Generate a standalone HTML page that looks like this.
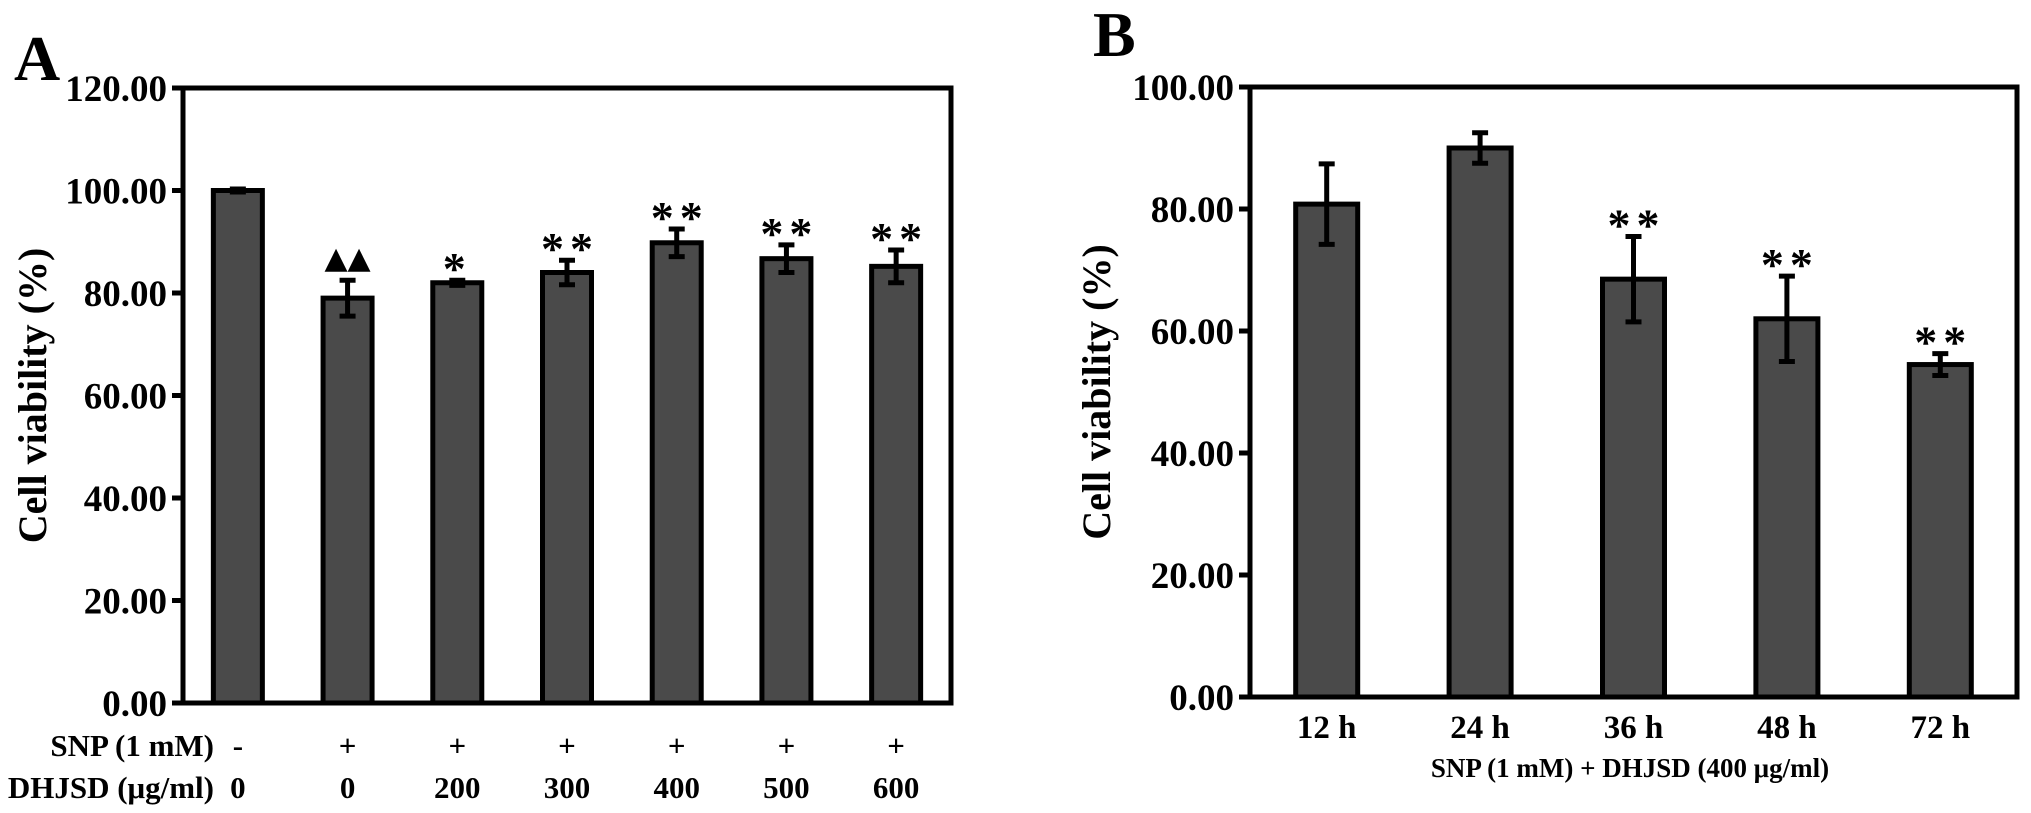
<!DOCTYPE html>
<html><head><meta charset="utf-8"><style>
html,body{margin:0;padding:0;background:#fff;}
svg{display:block;font-family:"Liberation Serif",serif;font-weight:bold;}
</style></head><body>
<svg id="fig" width="2031" height="813" viewBox="0 0 2031 813" xmlns="http://www.w3.org/2000/svg">
<g id="pa"></g>
<g id="pb"></g>
</svg>
<script>
const catsA = ["1","2","3","4","5","6","7"];
const snpA = ["-","+","+","+","+","+","+"];
const dhjsdA = ["0","0","200","300","400","500","600"];
const valuesA = [100, 79, 82, 84, 89.8, 86.7, 85.2];
const errorsA = [0.3, 3.5, 0.5, 2.4, 2.7, 2.7, 3.2];
const marksA = ["", "▲▲", "*", "**", "**", "**", "**"];
const ticksA = [0,20,40,60,80,100,120];
const tickLabelsA = ["0.00","20.00","40.00","60.00","80.00","100.00","120.00"];

const catsB = ["12 h","24 h","36 h","48 h","72 h"];
const valuesB = [80.8, 90.0, 68.5, 62.0, 54.5];
const errorsB = [6.6, 2.5, 7.0, 7.0, 1.8];
const marksB = ["", "", "**", "**", "**"];
const ticksB = [0,20,40,60,80,100];
const tickLabelsB = ["0.00","20.00","40.00","60.00","80.00","100.00"];

const NS="http://www.w3.org/2000/svg";
function mk(parent,tag,attrs,text){const e=document.createElementNS(NS,tag);for(const k in attrs)e.setAttribute(k,attrs[k]);if(text!==undefined)e.textContent=text;parent.appendChild(e);return e;}

function panel(g, cfg){
  const {x0,x1,y0,y1,max,cats,vals,errs,marks,ticks,tickLabels,bw,letter,lx,ly}=cfg;
  const n=cats.length, cw=(x1-x0)/n;
  const xs=i=>x0+cw*(i+0.5);
  const ys=v=>y0-(v/max)*(y0-y1);
  let t=mk(g,'text',{x:lx,y:ly,'font-size':64},letter);
  
  
  ticks.forEach((v,i)=>{
    let l=mk(g,'line',{x1:x0-11,x2:x0,y1:ys(v),y2:ys(v),stroke:'#000','stroke-width':5});
    
    
    let tl=mk(g,'text',{x:x0-16,y:ys(v)+13,'font-size':37,'text-anchor':'end'},tickLabels[i]);
    
    
  });
  vals.forEach((v,i)=>{
    const cx=xs(i);
    let r=mk(g,'rect',{x:cx-bw/2,y:ys(v),width:bw,height:y0-ys(v),fill:'#4a4a4a',stroke:'#000','stroke-width':5});
    
    
    const e=errs[i];
    let eb=mk(g,'path',{d:`M${cx} ${ys(v+e)}V${ys(v-e)}M${cx-8} ${ys(v+e)}H${cx+8}M${cx-8} ${ys(v-e)}H${cx+8}`,stroke:'#000','stroke-width':5,fill:'none'});
    
    
    if(marks[i]){
      const tri=marks[i].indexOf('▲')>=0;
      let m=mk(g,'text',{x:cx+(marks[i].length>1&&!tri?3:0),y:ys(v+e)-(tri?12:-4),'font-size':tri?30:46,'letter-spacing':tri?0:6,'text-anchor':'middle','font-family':tri?'DejaVu Sans, sans-serif':'Liberation Serif, serif'},marks[i]);
      
      
    }
  });
  let ax=mk(g,'rect',{x:x0,y:y1,width:x1-x0,height:y0-y1,fill:'none',stroke:'#000','stroke-width':5});
  
  
  let yt=mk(g,'text',{x:0,y:0,'font-size':40,'text-anchor':'middle',transform:`translate(${cfg.ytx},${(y0+y1)/2}) rotate(-90)`},'Cell  viability (%)');
  
  
  return xs;
}

const pa=document.getElementById('pa');
const xsA=panel(pa,{x0:183,x1:951,y0:703,y1:88,max:120,cats:catsA,vals:valuesA,errs:errorsA,marks:marksA,ticks:ticksA,tickLabels:tickLabelsA,bw:49,letter:'A',lx:14,ly:80,ytx:46});
let s1=mk(pa,'text',{x:214,y:756,'font-size':31,'text-anchor':'end'},'SNP (1 mM)');


let s2=mk(pa,'text',{x:214,y:798,'font-size':31,'text-anchor':'end'},'DHJSD  (μg/ml)');


catsA.forEach((c,i)=>{
  let a=mk(pa,'text',{x:xsA(i),y:756,'font-size':31,'text-anchor':'middle'},snpA[i]);
  
  
  let b=mk(pa,'text',{x:xsA(i),y:798,'font-size':31,'text-anchor':'middle'},dhjsdA[i]);
  
  
});

const pb=document.getElementById('pb');
const xsB=panel(pb,{x0:1250,x1:2017,y0:697,y1:87,max:100,cats:catsB,vals:valuesB,errs:errorsB,marks:marksB,ticks:ticksB,tickLabels:tickLabelsB,bw:62,letter:'B',lx:1093,ly:56,ytx:1110});
catsB.forEach((c,i)=>{
  let a=mk(pb,'text',{x:xsB(i),y:738,'font-size':33,'text-anchor':'middle'},c);
  
  
});
let xt=mk(pb,'text',{x:1630,y:777,'font-size':27,'text-anchor':'middle'},'SNP (1 mM) + DHJSD (400 μg/ml)');


</script>
</body></html>
